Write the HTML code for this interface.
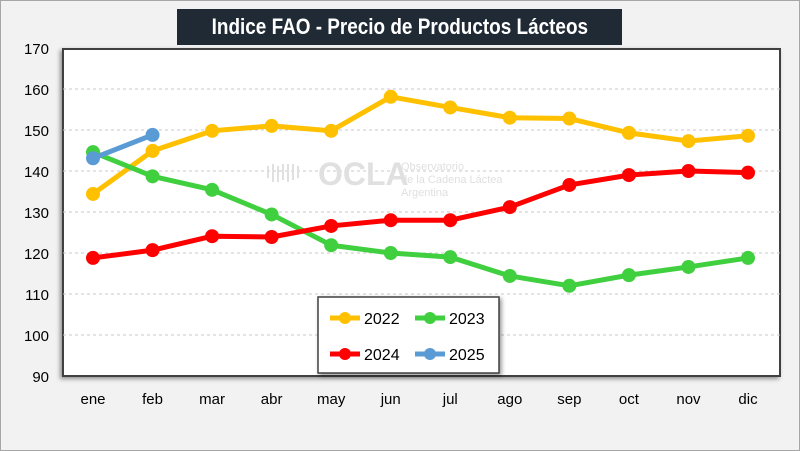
<!DOCTYPE html>
<html><head><meta charset="utf-8"><style>
body{margin:0;width:800px;height:451px;overflow:hidden;background:#fff;font-family:"Liberation Sans",sans-serif}
#wrap{position:absolute;left:0;top:0;width:798px;height:449px;border:1px solid #a6a6a6;background:#f2f2f2}
#title{position:absolute;left:177px;top:9px;width:445px;height:36px;background:#1f2a35;color:#fff;font-weight:bold;font-size:22px;line-height:36px;text-align:center;white-space:nowrap;overflow:hidden;font-family:"Liberation Sans",sans-serif}
#title span{display:inline-block;transform:scaleX(0.86);transform-origin:center}
</style></head><body>
<div id="wrap"></div>
<svg id="chart" width="800" height="451" style="position:absolute;left:0;top:0"></svg>
<div id="title"><span>Indice FAO - Precio de Productos Lácteos</span></div>
<script>
const months=["ene","feb","mar","abr","may","jun","jul","ago","sep","oct","nov","dic"];
const yTicks=[90,100,110,120,130,140,150,160,170];
const s2022=[134.4,144.9,149.8,151,149.8,158.1,155.5,153,152.8,149.3,147.3,148.6];
const s2023=[144.6,138.7,135.4,129.4,121.9,120,119,114.4,112,114.6,116.6,118.8];
const s2024=[118.8,120.7,124.1,123.9,126.6,128,128,131.2,136.6,139,140,139.6];
const s2025=[143.1,148.8];
const seriesNames=["2022","2023","2024","2025"];
const seriesColors=["#ffc000","#3fcf3f","#ff0000","#5b9bd5"];
const svg=document.getElementById('chart');
const NS="http://www.w3.org/2000/svg";
const L=63,R=780,T=48,B=376;
function x(i){return 93+i*(748-93)/11;}
function y(v){return B-(v-90)*(B-T)/80;}
function el(t,a){const e=document.createElementNS(NS,t);for(const k in a)e.setAttribute(k,a[k]);svg.appendChild(e);return e;}
const plot=el('rect',{x:L,y:T+1,width:R-L,height:B-T-1,fill:'#fff',stroke:'#404040','stroke-width':2,style:'filter:drop-shadow(-2px 2px 2px rgba(0,0,0,0.4))'});


yTicks.forEach(v=>{
  if(v>90&&v<170){const g=el('line',{x1:L,x2:R,y1:y(v),y2:y(v),stroke:'#c8c8c8','stroke-dasharray':'3,3'});
  
  }
  const t=el('text',{x:49,y:y(v)+6,'text-anchor':'end','font-size':15,fill:'#000'});t.textContent=v;
  
  
});
months.forEach((m,i)=>{const t=el('text',{x:x(i),y:404,'text-anchor':'middle','font-size':15,fill:'#000'});t.textContent=m;
  
  });
const wm=el('text',{x:318,y:185,'font-size':32,'font-weight':'bold',fill:'#e0e0e0'});wm.textContent="OCLA";


const wm2=el('text',{x:401,y:170,'font-size':11,fill:'#e0e0e0'});wm2.textContent="Observatorio";


const wm3=el('text',{x:401,y:183,'font-size':11,fill:'#e0e0e0'});wm3.textContent="de la Cadena Láctea";


const wm4=el('text',{x:401,y:196,'font-size':11,fill:'#e0e0e0'});wm4.textContent="Argentina";


const wave=el('path',{d:'M268 178 v-12 m5 16 v-18 m5 18 v-16 m5 14 v-16 m5 18 v-18 m5 16 v-16 m5 14 v-12',stroke:'#e0e0e0','stroke-width':2,fill:'none'});


[s2022,s2023,s2024,s2025].forEach((s,k)=>{
  const p=el('polyline',{points:s.map((v,i)=>x(i)+','+y(v)).join(' '),fill:'none',stroke:seriesColors[k],'stroke-width':5,'stroke-linejoin':'round'});
  
  
  s.forEach((v,i)=>{const c=el('circle',{cx:x(i),cy:y(v),r:7,fill:seriesColors[k]});
    
    });
});
const lg=el('rect',{x:318,y:297,width:181,height:76,fill:'#fff',stroke:'#404040','stroke-width':1.5,style:'filter:drop-shadow(2px 2px 2px rgba(0,0,0,0.4))'});


const lp=[[330,318],[415,318],[330,354],[415,354]];
seriesNames.forEach((n,k)=>{
  const [lx,ly]=lp[k];
  const l=el('line',{x1:lx,x2:lx+30,y1:ly,y2:ly,stroke:seriesColors[k],'stroke-width':5});
  
  
  el('circle',{cx:lx+15,cy:ly,r:6,fill:seriesColors[k]});
  const t=el('text',{x:lx+34,y:ly+6,'font-size':16,fill:'#000'});t.textContent=n;
  
  
});
</script>
</body></html>
